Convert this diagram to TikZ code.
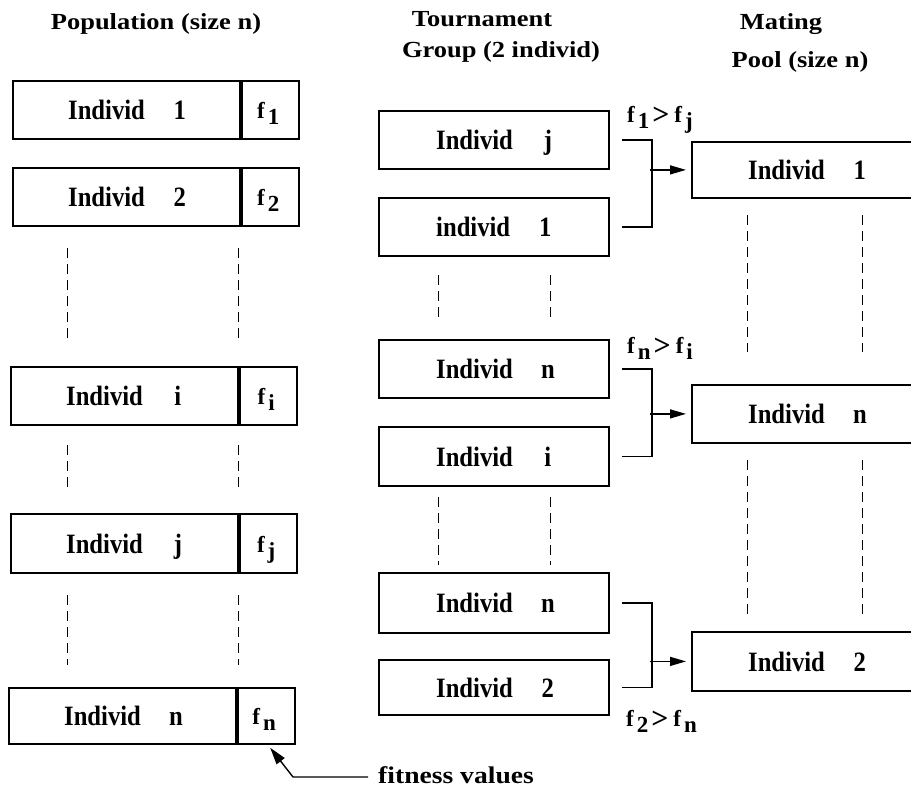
\documentclass[tikz,border=0pt]{standalone}
\usepackage{fontspec}
\setmainfont{Liberation Serif}
\newfontfamily\lblfont{Liberation Serif}[FakeStretch=0.88]
\newfontfamily\hdrfont{Liberation Serif}[FakeStretch=1.15]
\usetikzlibrary{arrows.meta,calc}
\newcommand\fsub[1]{f\kern3pt\raisebox{-6pt}{#1}}
\newcommand\fgt{\kern3pt\raisebox{-2pt}{\fontsize{30}{30}\selectfont>}\kern5pt}
\begin{document}
\begin{tikzpicture}[x=1pt,y=-1pt,
  box/.style={draw, line width=1.8pt, inner sep=0pt, anchor=north west},
  lbl/.style={anchor=base west, inner sep=0pt, font=\lblfont\bfseries\fontsize{28}{28}\selectfont},
  ftxt/.style={anchor=base, inner sep=0pt, font=\bfseries\fontsize{23}{23}\selectfont},
  cmp/.style={anchor=base west, inner sep=0pt, font=\bfseries\fontsize{23}{23}\selectfont},
  hdr/.style={anchor=base, inner sep=0pt, font=\hdrfont\bfseries\fontsize{23}{27}\selectfont},
  dsh/.style={line width=1pt, dash pattern=on 10pt off 6pt},
  brk/.style={line width=1.4pt},
  arr/.style={line width=1.4pt, -{Triangle[length=16pt,width=9pt]}},
  fitarr/.style={line width=1.4pt, -{Triangle[length=17pt,width=10pt]}}]

\fill[white] (0,0) rectangle (911,800);
\useasboundingbox (0,0) rectangle (911,800);
\clip (0,0) rectangle (911,800);

% headers
\node[hdr] (h1) at (156,30) {Population (size n)};
\node[hdr] (h2) at (482,27) {Tournament};
\node[hdr] (h3) at (501,58) {Group (2 individ)};
\node[hdr] (h4) at (781,30) {Mating};
\node[hdr] (h5) at (800,68) {Pool (size n)};

% population column
\node[box, minimum width=227pt, minimum height=58pt] (p1) at (12,80) {};
\node[box, minimum width=57pt, minimum height=58pt] (pf1) at (p1.north east) {};
\node[box, minimum width=227pt, minimum height=58pt] (p2) at (12,167) {};
\node[box, minimum width=57pt, minimum height=58pt] (pf2) at (p2.north east) {};
\node[box, minimum width=227pt, minimum height=58pt] (pi) at (10,366) {};
\node[box, minimum width=57pt, minimum height=58pt] (pfi) at (pi.north east) {};
\node[box, minimum width=227pt, minimum height=59pt] (pj) at (10,513) {};
\node[box, minimum width=57pt, minimum height=59pt] (pfj) at (pj.north east) {};
\node[box, minimum width=227pt, minimum height=56pt] (pn) at (8,687) {};
\node[box, minimum width=57pt, minimum height=56pt] (pfn) at (pn.north east) {};

\node[lbl] (p1l) at ($(p1.west)+(56,10)$) {Individ\hspace{26pt}\makebox[18pt]{1}};
\node[lbl] (p2l) at ($(p2.west)+(56,10)$) {Individ\hspace{26pt}\makebox[18pt]{2}};
\node[lbl] (pil) at ($(pi.west)+(56,10)$) {Individ\hspace{26pt}\makebox[18pt]{i}};
\node[lbl] (pjl) at ($(pj.west)+(56,10)$) {Individ\hspace{26pt}\makebox[18pt]{j}};
\node[lbl] (pnl) at ($(pn.west)+(56,10)$) {Individ\hspace{26pt}\makebox[18pt]{n}};

\node[ftxt] (pf1t) at ($(pf1.center)+(-2,9)$) {\fsub{1}};
\node[ftxt] (pf2t) at ($(pf2.center)+(-2,9)$) {\fsub{2}};
\node[ftxt] (pfit) at ($(pfi.center)+(-2,9)$) {\fsub{i}};
\node[ftxt] (pfjt) at ($(pfj.center)+(-2,9)$) {\fsub{j}};
\node[ftxt] (pfnt) at ($(pfn.center)+(-2,9)$) {\fsub{n}};

\draw[dsh] (67,248) -- (67,342);  \draw[dsh] (238,248) -- (238,342);
\draw[dsh] (67,445) -- (67,492);  \draw[dsh] (238,445) -- (238,492);
\draw[dsh] (67,595) -- (67,665);  \draw[dsh] (238,595) -- (238,665);

% tournament column
\node[box, minimum width=230pt, minimum height=58pt] (t1) at (378,110) {};
\node[box, minimum width=230pt, minimum height=58pt] (t2) at (378,197) {};
\node[box, minimum width=230pt, minimum height=58pt] (t3) at (378,339) {};
\node[box, minimum width=230pt, minimum height=59pt] (t4) at (378,426) {};
\node[box, minimum width=230pt, minimum height=60pt] (t5) at (378,572) {};
\node[box, minimum width=230pt, minimum height=55pt] (t6) at (378,659) {};

\node[lbl] (t1l) at ($(t1.west)+(58,10)$) {Individ\hspace{26pt}\makebox[18pt]{j}};
\node[lbl] (t2l) at ($(t2.west)+(58,10)$) {individ\hspace{26pt}\makebox[18pt]{1}};
\node[lbl] (t3l) at ($(t3.west)+(58,10)$) {Individ\hspace{26pt}\makebox[18pt]{n}};
\node[lbl] (t4l) at ($(t4.west)+(58,10)$) {Individ\hspace{26pt}\makebox[18pt]{i}};
\node[lbl] (t5l) at ($(t5.west)+(58,10)$) {Individ\hspace{26pt}\makebox[18pt]{n}};
\node[lbl] (t6l) at ($(t6.west)+(58,10)$) {Individ\hspace{26pt}\makebox[18pt]{2}};

\draw[dsh] (438,275) -- (438,320);  \draw[dsh] (550,275) -- (550,320);
\draw[dsh] (438,497) -- (438,565);  \draw[dsh] (550,497) -- (550,565);

% mating pool column (open on the right)
\node[box, minimum width=240pt, minimum height=56pt] (m1) at (691,141) {};
\node[box, minimum width=240pt, minimum height=58pt] (m2) at (691,384) {};
\node[box, minimum width=240pt, minimum height=59pt] (m3) at (691,631) {};

\node[lbl] (m1l) at ($(m1.west)+(57,10)$) {Individ\hspace{26pt}\makebox[18pt]{1}};
\node[lbl] (m2l) at ($(m2.west)+(57,10)$) {Individ\hspace{26pt}\makebox[18pt]{n}};
\node[lbl] (m3l) at ($(m3.west)+(57,10)$) {Individ\hspace{26pt}\makebox[18pt]{2}};

\draw[dsh] (747,215) -- (747,352);  \draw[dsh] (862,215) -- (862,352);
\draw[dsh] (747,460) -- (747,615);  \draw[dsh] (862,460) -- (862,615);

% brackets and arrows
\draw[brk] ([xshift=12pt]t1.east) -- ++(30,0) |- ([xshift=12pt]t2.east);
\draw[arr] ([xshift=-41pt]m1.west) -- ([xshift=-5pt]m1.west);
\draw[brk] ([xshift=12pt]t3.east) -- ++(30,0) |- ([xshift=12pt]t4.east);
\draw[arr] ([xshift=-41pt]m2.west) -- ([xshift=-5pt]m2.west);
\draw[brk] ([xshift=12pt]t5.east) -- ++(30,0) |- ([xshift=12pt]t6.east);
\draw[arr] ([xshift=-41pt]m3.west) -- ([xshift=-5pt]m3.west);

\node[cmp] (c1) at (627,122) {\fsub{1}\fgt\fsub{j}};
\node[cmp] (c2) at (627,353) {\fsub{n}\fgt\fsub{i}};
\node[cmp] (c3) at (626,726) {\fsub{2}\fgt\fsub{n}};

% fitness values
\node[anchor=west, inner sep=0pt, font=\hdrfont\bfseries\fontsize{24}{24}\selectfont] (fv) at (378,775) {fitness values};
\coordinate (fvend) at (368,777);
\draw[fitarr] (fvend) -- (293,777) -- ([xshift=4pt,yshift=-3pt]pfn.south);
\end{tikzpicture}
\end{document}
